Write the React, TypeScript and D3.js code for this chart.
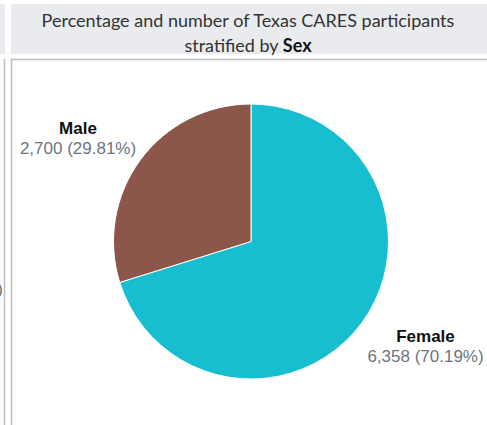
import React from "react";
import * as d3 from "d3";

const categories = ["Female", "Male"];
const counts = [6358, 2700];
const percents = ["70.19%", "29.81%"];
const colors = ["#17becf", "#8c564b"];
const titleLine1 = "Percentage and number of Texas CARES participants";
const titleLine2a = "stratified by ";
const titleLine2b = "Sex";

export default function App() {
  const W = 487, H = 425;
  const cx = 251, cy = 241.5, r = 137.5;
  const pie = d3.pie<number>().sort(null).value((d) => d);
  const arcs = pie(counts);
  const arc = d3.arc<d3.PieArcDatum<number>>().innerRadius(0).outerRadius(r);
  const fmt = d3.format(",");
  const labelPos: [number, number][] = [
    [425.5, 342],
    [78, 134],
  ];
  return (
    <svg width={W} height={H} style={{ position: "absolute", left: 0, top: 0, background: "#fff" }}>
      {/* left neighbour panel */}
      <rect x={0} y={4} width={5} height={50} fill="#e9ebef" />
      <line x1={4.5} y1={59} x2={4.5} y2={H} stroke="#bdbdbd" strokeWidth={1.5} />
      <text x={3} y={295} textAnchor="end" fontFamily="Liberation Sans, Arial" fontSize={17} fill="#6b7580">%)</text>
      {/* title panel */}
      <rect x={11} y={4} width={W - 11} height={50} fill="#e9ebef" />
      <text x={248} y={27} textAnchor="middle" fontFamily="Lato, sans-serif" fontSize={18} fill="#333">{titleLine1}</text>
      <text x={248} y={52} textAnchor="middle" fontFamily="Lato, sans-serif" fontSize={18} fill="#333">
        {titleLine2a}
        <tspan fontWeight="bold" fill="#111">{titleLine2b}</tspan>
      </text>
      {/* content box border */}
      <line x1={11} y1={59.5} x2={W} y2={59.5} stroke="#bdbdbd" strokeWidth={1.5} />
      <line x1={11.5} y1={59} x2={11.5} y2={H} stroke="#bdbdbd" strokeWidth={1.5} />
      <g transform={`translate(${cx},${cy})`}>
        {arcs.map((a, i) => (
          <path key={categories[i]} d={arc(a) || ""} fill={colors[i]} stroke="#fff" strokeWidth={1} />
        ))}
      </g>
      {categories.map((c, i) => (
        <g key={c} fontFamily="Liberation Sans, Arial, sans-serif" fontSize={17} textAnchor="middle">
          <text x={labelPos[i][0]} y={labelPos[i][1]} fontWeight="bold" fill="#111">{c}</text>
          <text x={labelPos[i][0]} y={labelPos[i][1] + 20} fill="#6b7580">{`${fmt(counts[i])} (${percents[i]})`}</text>
        </g>
      ))}
    </svg>
  );
}
